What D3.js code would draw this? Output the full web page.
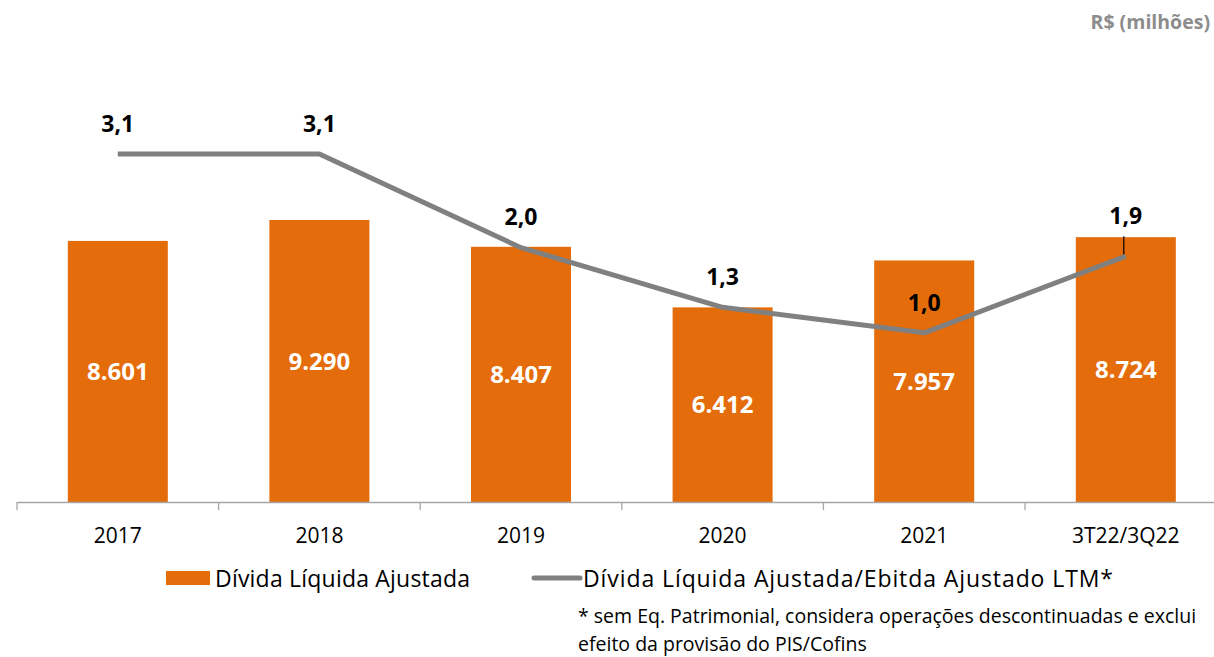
<!DOCTYPE html>
<html>
<head>
  <meta charset="utf-8">
  <title>Dívida Líquida Ajustada</title>
  <style>
    body { margin: 0; background: #fff; }
    text { font-family: "Open Sans", "Noto Sans", sans-serif; }
  </style>
</head>
<body>
  <div id="graph"></div>
  <script src="https://cdn.jsdelivr.net/npm/d3@7"></script>
  <script>
    // data
    const categories = ["2017", "2018", "2019", "2020", "2021", "3T22/3Q22"];
    const divida = [8601, 9290, 8407, 6412, 7957, 8724];
    const alavancagem = [3.1, 3.1, 2.0, 1.3, 1.0, 1.9];
    const dividaLabels = ["8.601", "9.290", "8.407", "6.412", "7.957", "8.724"];
    const alavLabels = ["3,1", "3,1", "2,0", "1,3", "1,0", "1,9"];

    const width = 1214, height = 657;
    const orange = "#e46c0a", gray = "#808080";

    const svg = d3.select("#graph")
      .append("svg")
      .attr("width", width)
      .attr("height", height);

    // x band scale
    const x = d3.scaleBand()
      .domain(categories)
      .range([17, 1226.6])
      .paddingInner(0)
      .paddingOuter(0);

    const barW = 100;
    const baseY = 502;

    // bars
    const y = d3.scaleLinear()
      .domain([0, 9290])
      .range([baseY, 220]);

    // line (secondary axis)
    const y2 = d3.scaleLinear()
      .domain([0, 3.1])
      .range([418, 154]);

    const cx = d => x(d) + x.bandwidth() / 2;

    svg.append("g")
      .selectAll("rect")
      .data(categories)
      .enter().append("rect")
      .attr("x", d => cx(d) - barW / 2)
      .attr("y", (d, i) => y(divida[i]))
      .attr("width", barW)
      .attr("height", (d, i) => baseY - y(divida[i]))
      .attr("fill", orange);

    // bar value labels
    svg.append("g")
      .selectAll("text")
      .data(categories)
      .enter().append("text")
      .attr("x", d => cx(d))
      .attr("y", (d, i) => (y(divida[i]) + baseY) / 2)
      .attr("dy", "0.36em")
      .attr("text-anchor", "middle")
      .attr("fill", "#fff")
      .attr("font-weight", "bold")
      .attr("font-size", 24)
      .text((d, i) => dividaLabels[i]);

    // x axis
    const axis = svg.append("g").attr("stroke", "#a6a6a6").attr("stroke-width", 1.3);
    axis.append("line")
      .attr("x1", 17).attr("x2", width)
      .attr("y1", baseY + 0.5).attr("y2", baseY + 0.5);
    axis.selectAll("line.tick")
      .data(categories)
      .enter().append("line")
      .attr("class", "tick")
      .attr("x1", d => x(d)).attr("x2", d => x(d))
      .attr("y1", baseY).attr("y2", baseY + 8);

    svg.append("g")
      .selectAll("text")
      .data(categories)
      .enter().append("text")
      .attr("x", d => cx(d))
      .attr("y", 535)
      .attr("dy", "0.36em")
      .attr("text-anchor", "middle")
      .attr("font-size", 21)
      .attr("fill", "#000")
      .text(d => d);

    // line
    const line = d3.line()
      .x(d => cx(d))
      .y((d, i) => y2(alavancagem[i]));

    svg.append("path")
      .datum(categories)
      .attr("d", line)
      .attr("fill", "none")
      .attr("stroke", gray)
      .attr("stroke-width", 5)
      .attr("stroke-linejoin", "round");

    // line labels
    const labelOffset = [30, 30, 31, 31, 30, 40];
    svg.append("g")
      .selectAll("text")
      .data(categories)
      .enter().append("text")
      .attr("x", d => cx(d))
      .attr("y", (d, i) => y2(alavancagem[i]) - labelOffset[i])
      .attr("dy", "0.36em")
      .attr("text-anchor", "middle")
      .attr("font-weight", "bold")
      .attr("font-size", 23)
      .attr("fill", "#000")
      .text((d, i) => alavLabels[i]);

    // leader line for last label
    const last = categories[categories.length - 1];
    svg.append("line")
      .attr("x1", cx(last) - 2).attr("x2", cx(last) - 2)
      .attr("y1", y2(alavancagem[5]) - 20)
      .attr("y2", y2(alavancagem[5]) - 2)
      .attr("stroke", "#000")
      .attr("stroke-width", 1.2);

    // unit
    svg.append("text")
      .attr("x", 1210).attr("y", 22)
      .attr("dy", "0.36em")
      .attr("text-anchor", "end")
      .attr("font-weight", "bold")
      .attr("font-size", 19.5)
      .attr("fill", "#8c8c8c")
      .text("R$ (milhões)");

    // legend
    const lg = svg.append("g");
    lg.append("rect")
      .attr("x", 166).attr("y", 571)
      .attr("width", 44).attr("height", 14)
      .attr("fill", orange);
    lg.append("text")
      .attr("x", 215).attr("y", 579)
      .attr("dy", "0.36em")
      .attr("font-size", 23)
      .attr("textLength", 255)
      .attr("lengthAdjust", "spacing")
      .attr("fill", "#000")
      .text("Dívida Líquida Ajustada");
    lg.append("line")
      .attr("x1", 534).attr("x2", 580)
      .attr("y1", 578).attr("y2", 578)
      .attr("stroke", gray)
      .attr("stroke-width", 5)
      .attr("stroke-linecap", "round");
    lg.append("text")
      .attr("x", 583).attr("y", 579)
      .attr("dy", "0.36em")
      .attr("font-size", 23)
      .attr("textLength", 530)
      .attr("lengthAdjust", "spacing")
      .attr("fill", "#000")
      .text("Dívida Líquida Ajustada/Ebitda Ajustado LTM*");

    // footnote
    const notes = ["* sem Eq. Patrimonial, considera operações descontinuadas e exclui",
                   "efeito da provisão do PIS/Cofins"];
    svg.append("g")
      .selectAll("text")
      .data(notes)
      .enter().append("text")
      .attr("x", 578)
      .attr("y", (d, i) => 616 + i * 28)
      .attr("dy", "0.36em")
      .attr("font-size", 19.5)
      .attr("fill", "#000")
      .text(d => d);
  </script>
</body>
</html>
